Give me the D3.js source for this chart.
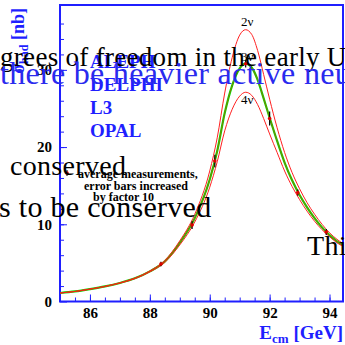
<!DOCTYPE html>
<html>
<head>
<meta charset="utf-8">
<script src="https://cdn.jsdelivr.net/npm/d3@7"></script>
<style>
  body { margin: 0; background: #fff; }
  svg { display: block; }
</style>
</head>
<body>
<div id="chart"></div>
<script>
// curve samples (E in GeV, sigma in nb)
const energies = [85.0, 85.5, 86.0, 86.5, 87.0, 87.5, 88.0, 88.5, 89.0, 89.5, 90.0, 90.25, 90.5, 90.75, 91.0,
  91.2, 91.4, 91.6, 91.8, 92.0, 92.25, 92.5, 92.75, 93.0, 93.25, 93.5, 93.75, 94.0, 94.25, 94.45];
const sigma3nu = [1.1, 1.3, 1.6, 1.95, 2.4, 3.0, 3.9, 5.2, 7.6, 10.8, 15.8, 19.5, 24.4, 28.0, 30.2,
  30.8, 30.3, 28.7, 26.3, 23.8, 20.8, 18.0, 15.7, 13.8, 12.2, 10.8, 9.6, 8.6, 7.8, 7.3];
const sigma2nu = [1.1, 1.31, 1.61, 1.97, 2.43, 3.04, 3.97, 5.32, 7.86, 11.3, 16.9, 21.2, 27.0, 31.6, 34.5,
  35.2, 34.6, 32.5, 29.4, 26.2, 22.5, 19.3, 16.7, 14.6, 12.8, 11.3, 10.0, 8.9, 8.05, 7.5];
const sigma4nu = [1.1, 1.29, 1.59, 1.93, 2.37, 2.95, 3.83, 5.07, 7.33, 10.3, 14.8, 18.1, 22.1, 24.9, 26.6,
  27.1, 26.7, 25.5, 23.7, 21.7, 19.3, 16.9, 14.9, 13.2, 11.7, 10.4, 9.3, 8.4, 7.6, 7.15];

// averaged measurements
const measE = [88.37, 89.41, 90.17, 91.2, 92.0, 92.94, 93.89];
const measSigma = [4.85, 9.9, 18.2, 30.8, 23.7, 14.1, 9.0];
const measErr = [0.3, 0.5, 0.8, 0.5, 0.9, 0.4, 0.4];

const xTicks = [86, 88, 90, 92, 94];
const yTicks = [0, 10, 20, 30];
const experiments = ["ALEPH", "DELPHI", "L3", "OPAL"];
const noteLines = ["average measurements,", "error bars increased", "by factor 10"];

const width = 345, height = 345;
const blue = "#1f1fff";

const svg = d3.select("#chart").append("svg")
  .attr("width", width)
  .attr("height", height);

const x = d3.scaleLinear().domain([85, 94.45]).range([60, 343]);
const y = d3.scaleLinear().domain([0, 38.4]).range([301.5, 5]);

svg.append("clipPath").attr("id", "plot")
  .append("rect").attr("x", 60).attr("y", 5).attr("width", 283).attr("height", 296.5);

// minor ticks
svg.append("g").attr("transform", `translate(0,${y(0)})`)
  .call(d3.axisBottom(x).tickValues(d3.range(85.5, 94.45, 0.5)).tickSize(-4).tickFormat(""))
  .call(g => g.select(".domain").remove())
  .call(g => g.selectAll("line").attr("stroke", blue));
svg.append("g").attr("transform", `translate(${x(85)},0)`)
  .call(d3.axisLeft(y).tickValues(d3.range(2, 38, 2)).tickSize(-4).tickFormat(""))
  .call(g => g.select(".domain").remove())
  .call(g => g.selectAll("line").attr("stroke", blue));

// major ticks + labels
const xAxis = svg.append("g").attr("transform", `translate(0,${y(0)})`)
  .call(d3.axisBottom(x).tickValues(xTicks).tickSize(-7).tickPadding(6).tickFormat(d3.format("d")));
const yAxis = svg.append("g").attr("transform", `translate(${x(85)},0)`)
  .call(d3.axisLeft(y).tickValues(yTicks).tickSize(-7).tickPadding(8).tickFormat(d3.format("d")));
[xAxis, yAxis].forEach(ax => {
  ax.select(".domain").remove();
  ax.selectAll("line").attr("stroke", blue);
  ax.selectAll("text")
    .attr("fill", "#000")
    .style("font-family", "Liberation Serif, serif")
    .style("font-weight", "bold")
    .style("font-size", "15px");
});

// frame
svg.append("rect")
  .attr("x", 60).attr("y", 5).attr("width", 283).attr("height", 296.5)
  .attr("fill", "none").attr("stroke", blue).attr("stroke-width", 2);

// curves
const plot = svg.append("g").attr("clip-path", "url(#plot)");
const line = vals => d3.line()
  .x((d, i) => x(energies[i]))
  .y(d => y(d))
  .curve(d3.curveMonotoneX)(vals);

plot.append("path").attr("d", line(sigma3nu))
  .attr("fill", "none").attr("stroke", "#00e000").attr("stroke-width", 2.2);
[sigma2nu, sigma4nu].forEach(s => {
  plot.append("path").attr("d", line(s))
    .attr("fill", "none").attr("stroke", "#ff2020").attr("stroke-width", 1);
});
// low-energy part where all curves merge
plot.append("path").attr("d", line(sigma3nu))
  .attr("fill", "none").attr("stroke", "#e03000").attr("stroke-width", 1).attr("opacity", 0.6);

// measurements
measE.forEach((e, i) => {
  plot.append("line")
    .attr("x1", x(e)).attr("x2", x(e))
    .attr("y1", y(measSigma[i] - measErr[i])).attr("y2", y(measSigma[i] + measErr[i]))
    .attr("stroke", "#000").attr("stroke-width", 1.2);
  plot.append("circle")
    .attr("cx", x(e)).attr("cy", y(measSigma[i])).attr("r", 1.8)
    .attr("fill", "#e00000");
});

// curve labels (2nu above its peak, 3nu on the green peak, 4nu under its peak)
const nuLabels = [["2\u03bd", 35.2, -4], ["3\u03bd", 30.8, -3], ["4\u03bd", 27.1, 12]];
nuLabels.forEach(([t, v, dy]) => {
  svg.append("text")
    .attr("x", x(91.25)).attr("y", y(v) + dy)
    .attr("text-anchor", "middle")
    .style("font-family", "Liberation Serif, serif")
    .style("font-size", "13px")
    .text(t);
});

// experiment names
experiments.forEach((t, i) => {
  svg.append("text")
    .attr("x", 90).attr("y", 68 + i * 23)
    .attr("fill", blue)
    .style("font-family", "Liberation Serif, serif")
    .style("font-weight", "bold")
    .style("font-size", "19px")
    .text(t);
});

// legend for measurements
svg.append("line").attr("x1", 67).attr("x2", 67).attr("y1", 170).attr("y2", 176)
  .attr("stroke", "#000");
svg.append("circle").attr("cx", 67).attr("cy", 173).attr("r", 1.8).attr("fill", "#e00000");
const noteX = [78, 84, 93];
noteLines.forEach((t, i) => {
  svg.append("text")
    .attr("x", noteX[i]).attr("y", 178 + i * 11.5)
    .style("font-family", "Liberation Serif, serif")
    .style("font-weight", "bold")
    .style("font-size", "12px")
    .text(t);
});

// axis titles
const yTitle = svg.append("text")
  .attr("transform", "translate(24,8) rotate(-90)")
  .attr("text-anchor", "end")
  .attr("fill", blue)
  .style("font-family", "Liberation Serif, serif")
  .style("font-weight", "bold")
  .style("font-size", "18px");
yTitle.append("tspan").text("\u03c3");
yTitle.append("tspan").attr("dy", 4).style("font-size", "12px").text("had");
yTitle.append("tspan").attr("dy", -4).text(" [nb]");

const xTitle = svg.append("text")
  .attr("x", 343).attr("y", 339)
  .attr("text-anchor", "end")
  .attr("fill", blue)
  .style("font-family", "Liberation Serif, serif")
  .style("font-weight", "bold")
  .style("font-size", "19px");
xTitle.append("tspan").text("E");
xTitle.append("tspan").attr("dy", 4).style("font-size", "13px").text("cm");
xTitle.append("tspan").attr("dy", -4).text(" [GeV]");

// slide text bleeding through the figure
const slideText = [
  ["grees of freedom in the early Universe", 0, 66, "#000", 27],
  ["there be heavier active neutrinos?", 0, 84, "#2a2aee", 32],
  ["conserved", 10, 175, "#000", 28],
  ["s to be conserved", -1, 217, "#000", 30],
  ["This", 307, 255, "#000", 28]
];
slideText.forEach(([t, tx, ty, c, fs]) => {
  svg.append("text")
    .attr("x", tx).attr("y", ty)
    .attr("fill", c)
    .style("font-family", "Liberation Serif, serif")
    .style("font-size", fs + "px")
    .style("letter-spacing", "0.3px")
    .text(t);
});
</script>
</body>
</html>
